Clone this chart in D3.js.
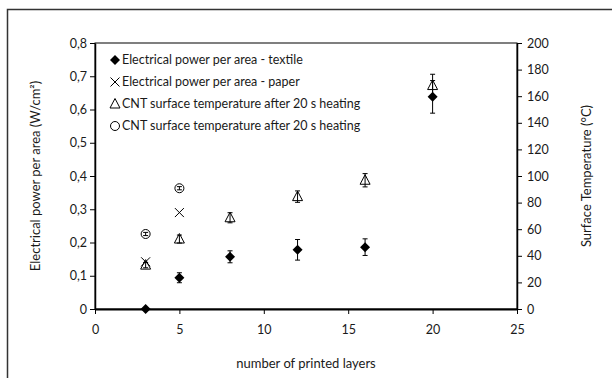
<!DOCTYPE html>
<html>
<head>
<meta charset="utf-8">
<script src="https://cdn.jsdelivr.net/npm/d3@7"></script>
<style>
    body { margin: 0; background: #fff; }
    svg text { font-family: Lato, "Open Sans", sans-serif; fill: #1a1a1a; }
</style>
</head>
<body>
<div id="chart"></div>
<script>
// printed layers
const layers = [3, 5, 8, 12, 16, 20];

// electrical power per area - textile (W/cm²) with error
const textilePower = [0.0, 0.094, 0.157, 0.178, 0.186, 0.638];
const textileErr = [0, 0.015, 0.018, 0.031, 0.025, 0.049];

// electrical power per area - paper
const paperLayers = [3, 5];
const paperPower = [0.142, 0.29];

// surface temperature (°C) - triangles
const triTemp = [33, 52.6, 68.6, 84.5, 96.8, 168];
const triErr = [2, 3, 3.8, 4.3, 5, 8.5];

// surface temperature (°C) - circles
const circLayers = [3, 5];
const circTemp = [56.4, 90.8];
const circErr = [1.2, 1.2];

const legendLabels = [
    'Electrical power per area - textile',
    'Electrical power per area - paper',
    'CNT surface temperature after 20 s heating',
    'CNT surface temperature after 20 s heating'
];

const xTicks = [0, 5, 10, 15, 20, 25];
const yLeftTicks = [0, 0.1, 0.2, 0.3, 0.4, 0.5, 0.6, 0.7, 0.8];
const yRightTicks = [0, 20, 40, 60, 80, 100, 120, 140, 160, 180, 200];

const W = 612, H = 378;
const margin = { top: 43, right: 95, bottom: 69, left: 95 };
const width = W - margin.left - margin.right;
const height = H - margin.top - margin.bottom;

const root = d3.select('#chart')
    .append('svg')
    .attr('width', W)
    .attr('height', H);

// outer frame (left and top only visible)
root.append('path')
    .attr('d', `M7.5,${H} V9.5 H${W}`)
    .attr('fill', 'none')
    .attr('stroke', '#333')
    .attr('stroke-width', 1.5);

const svg = root.append('g')
    .attr('transform', `translate(${margin.left}, ${margin.top})`);

const x = d3.scaleLinear().domain([0, 25]).range([0, width]);
const yL = d3.scaleLinear().domain([0, 0.8]).range([height, 0]);
const yR = d3.scaleLinear().domain([0, 200]).range([height, 0]);

// plot box
svg.append('rect')
    .attr('width', width)
    .attr('height', height)
    .attr('fill', 'none')
    .attr('stroke', '#000')
    .attr('stroke-width', 1);

const fmtComma = d => d === 0 ? '0' : d3.format('.1f')(d).replace('.', ',');

const xAxis = svg.append('g')
    .attr('transform', `translate(0, ${height})`)
    .call(d3.axisBottom(x).tickValues(xTicks).tickSize(5).tickSizeOuter(0).tickPadding(11));
xAxis.select('.domain').attr('stroke-width', 2);

const leftAxis = svg.append('g')
    .call(d3.axisLeft(yL).tickValues(yLeftTicks).tickFormat(fmtComma).tickSize(5).tickSizeOuter(0).tickPadding(3));
leftAxis.select('.domain').attr('stroke-width', 1.5);

const rightAxis = svg.append('g')
    .attr('transform', `translate(${width}, 0)`)
    .call(d3.axisRight(yR).tickValues(yRightTicks).tickSize(5).tickSizeOuter(0).tickPadding(5));
rightAxis.select('.domain').attr('stroke-width', 1.5);

svg.selectAll('.tick text').attr('font-size', 12.5);

// axis titles
svg.append('text')
    .attr('transform', `translate(${40 - margin.left}, ${height / 2}) rotate(-90)`)
    .attr('text-anchor', 'middle')
    .attr('font-size', 13)
    .text('Electrical power per area (W/cm²)');

svg.append('text')
    .attr('transform', `translate(${width + 74}, ${height / 2}) rotate(-90)`)
    .attr('text-anchor', 'middle')
    .attr('font-size', 13)
    .text('Surface Temperature (°C)');

svg.append('text')
    .attr('x', width / 2)
    .attr('y', height + 59)
    .attr('text-anchor', 'middle')
    .attr('font-size', 13)
    .text('number of printed layers');

// error bar helper
function errorBars(vals, errs, xs, yScale) {
    const g = svg.append('g').attr('stroke', '#000').attr('stroke-width', 1);
    vals.forEach((v, i) => {
        if (!errs[i]) return;
        const cx = x(xs[i]);
        const y1 = yScale(v + errs[i]);
        const y2 = yScale(v - errs[i]);
        g.append('line').attr('x1', cx).attr('x2', cx).attr('y1', y1).attr('y2', y2);
        g.append('line').attr('x1', cx - 2.5).attr('x2', cx + 2.5).attr('y1', y1).attr('y2', y1);
        g.append('line').attr('x1', cx - 2.5).attr('x2', cx + 2.5).attr('y1', y2).attr('y2', y2);
    });
}

const diamond = 'M0,-5 L5,0 L0,5 L-5,0 Z';
const cross = 'M-4.5,-4.5 L4.5,4.5 M-4.5,4.5 L4.5,-4.5';
const tri = 'M0,-5.5 L5,4 L-5,4 Z';

// triangles (temperature)
svg.selectAll('.tri')
    .data(layers)
    .enter()
    .append('path')
    .attr('class', 'tri')
    .attr('d', tri)
    .attr('transform', (d, i) => `translate(${x(d)}, ${yR(triTemp[i])})`)
    .attr('fill', '#fff')
    .attr('stroke', '#000')
    .attr('stroke-width', 1);
errorBars(triTemp, triErr, layers, yR);

// circles (temperature)
svg.selectAll('.circ')
    .data(circLayers)
    .enter()
    .append('circle')
    .attr('class', 'circ')
    .attr('cx', d => x(d))
    .attr('cy', (d, i) => yR(circTemp[i]))
    .attr('r', 4.5)
    .attr('fill', '#fff')
    .attr('stroke', '#000')
    .attr('stroke-width', 1);
errorBars(circTemp, circErr, circLayers, yR);

// paper crosses
svg.selectAll('.cross')
    .data(paperLayers)
    .enter()
    .append('path')
    .attr('class', 'cross')
    .attr('d', cross)
    .attr('transform', (d, i) => `translate(${x(d)}, ${yL(paperPower[i])})`)
    .attr('fill', 'none')
    .attr('stroke', '#000')
    .attr('stroke-width', 1);

// textile diamonds
errorBars(textilePower, textileErr, layers, yL);
svg.selectAll('.dia')
    .data(layers)
    .enter()
    .append('path')
    .attr('class', 'dia')
    .attr('d', diamond)
    .attr('transform', (d, i) => `translate(${x(d)}, ${yL(textilePower[i])})`)
    .attr('fill', '#000');

// legend
const legendShapes = [
    { d: diamond, fill: '#000', stroke: 'none' },
    { d: cross, fill: 'none', stroke: '#000' },
    { d: tri, fill: '#fff', stroke: '#000' },
    { d: 'M4.5,0 A4.5,4.5 0 1,1 -4.5,0 A4.5,4.5 0 1,1 4.5,0', fill: '#fff', stroke: '#000' }
];
const legend = svg.append('g').attr('transform', 'translate(20, 17)');
legendLabels.forEach((lab, i) => {
    const row = legend.append('g').attr('transform', `translate(0, ${i * 22})`);
    row.append('path')
        .attr('d', legendShapes[i].d)
        .attr('fill', legendShapes[i].fill)
        .attr('stroke', legendShapes[i].stroke);
    row.append('text')
        .attr('x', 7)
        .attr('dy', '0.35em')
        .attr('font-size', 12.5)
        .text(lab);
});
</script>
</body>
</html>
